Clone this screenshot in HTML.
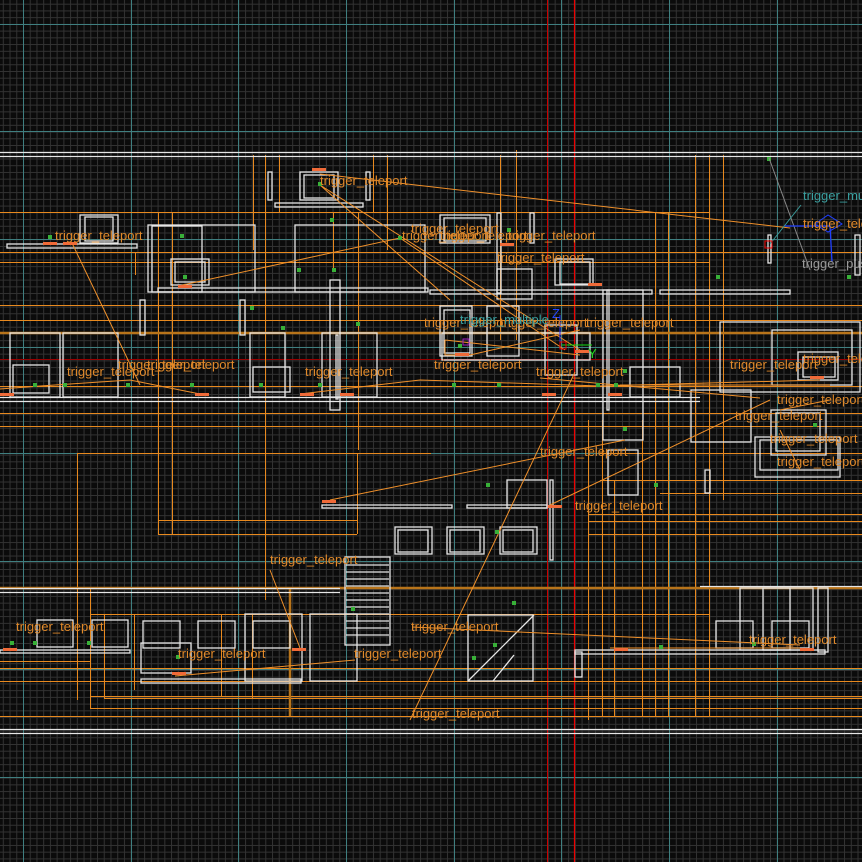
<!DOCTYPE html>
<html><head><meta charset="utf-8"><style>
html,body{margin:0;padding:0;background:#0a0a0a;}
svg{display:block}
text{font-family:"Liberation Sans","DejaVu Sans",sans-serif;font-size:13px;}
</style></head><body>
<svg width="862" height="862" viewBox="0 0 862 862" xmlns="http://www.w3.org/2000/svg">
<defs>
<pattern id="g" x="2.8" y="3.7" width="6.73" height="6.73" patternUnits="userSpaceOnUse">
<path d="M0 0.5H6.73M0.5 0V6.73" stroke="#333" stroke-width="1" fill="none"/>
</pattern>
</defs>
<rect width="862" height="862" fill="#0b0b0b"/>
<rect width="862" height="862" fill="url(#g)"/>
<g stroke="#3f7f80" stroke-width="1">
<path d="M23.5 0V862M131.5 0V862M238.5 0V862M346.5 0V862M454.5 0V862M561.5 0V862M669.5 0V862M777.5 0V862"/>
<path d="M0 24.5H862M0 131.5H862M0 239.5H862M0 347.5H862M0 453.5H862M0 561.5H862M0 669.5H862M0 777.5H862"/>
</g>
<path d="M547.5 0V862" stroke="#c00" stroke-width="1"/>
<path d="M574.5 0V862" stroke="#e00" stroke-width="1.2"/>
<path d="M0 359.5H862" stroke="#900" stroke-width="1"/>

<g stroke="#e8891e" stroke-width="1" fill="none">
<path d="M0 212.5H710M0 252.5H862M0 262.5H710M0 305.5H862M0 320.5H862M0 386.5H862M0 413.5H862M0 426.5H862M600 453.5H862M600 480.5H862M660 493.5H862"/>
<path d="M77 453.5H431M158 520.5H357M158 534.5H357M90 614.5H710M0 661.5H90M0 668.5H862M0 681.5H862M90 696.5H862M104 698.5H862M90 708.5H862M0 716.5H862M588 514.5H862M588 521.5H862M588 534.5H862M300 614.5H710"/>
<path d="M253.5 155V250M265.5 155V600M279.5 155V212M387.5 155V250M373.5 155V212M158.5 212V535M172.5 212V535M135.5 252V275M333.5 212V270M358.5 212V450M77.5 453V700M90.5 588V708M104.5 614V698M134.5 614V690M221.5 614V696M252.5 614V698M357.5 453V534"/>
<path d="M588.5 420V720M602.5 420V716M614.5 480V716M642.5 420V716M655.5 212V716M668.5 212V716M695.5 155V716M709.5 155V716M723.5 155V500M500.5 155V340M516.5 150V340"/>
</g>
<g stroke="#b8741a" stroke-width="2.5" fill="none">
<path d="M0 333H862M0 588H862M290 588V716"/>
</g>

<g stroke="#e6e6e6" stroke-width="1.3" fill="none">
<path d="M0 152.5H862M0 156.5H862M0 729.5H862M0 733.5H862"/>
<path d="M0 397.5H700M0 401.5H700M0 588.5H340M0 592.5H340M700 586.5H862"/>
<rect x="7" y="244" width="130" height="4"/>
<rect x="80" y="215" width="38" height="28"/><rect x="85" y="217" width="28" height="24"/>
<rect x="148" y="225" width="107" height="67"/><rect x="152" y="226" width="50" height="66"/>
<rect x="171" y="259" width="38" height="26"/><rect x="175" y="262" width="30" height="20"/>
<rect x="295" y="225" width="130" height="67"/>
<rect x="158" y="288" width="270" height="4"/>
<rect x="300" y="172" width="38" height="28"/><rect x="304" y="175" width="30" height="23"/>
<rect x="275" y="203" width="88" height="4"/>
<rect x="268" y="172" width="4" height="28"/><rect x="366" y="172" width="4" height="28"/>
<rect x="440" y="215" width="50" height="28"/><rect x="444" y="218" width="42" height="23"/>
<rect x="497" y="213" width="4" height="80"/><rect x="530" y="213" width="4" height="30"/>
<rect x="497" y="269" width="35" height="30"/>
<rect x="555" y="259" width="38" height="26"/><rect x="560" y="262" width="30" height="22"/>
<rect x="430" y="290" width="222" height="4"/><rect x="660" y="290" width="130" height="4"/>
<rect x="10" y="333" width="50" height="64"/><rect x="13" y="365" width="36" height="28"/>
<rect x="63" y="333" width="55" height="64"/>
<rect x="250" y="333" width="35" height="64"/><rect x="253" y="367" width="37" height="25"/>
<rect x="322" y="333" width="55" height="64"/><rect x="336" y="335" width="2" height="64"/>
<rect x="440" y="306" width="32" height="50"/><rect x="444" y="310" width="26" height="43"/>
<rect x="487" y="306" width="32" height="50"/>
<rect x="545" y="325" width="32" height="50"/>
<rect x="442" y="333" width="148" height="27"/>
<rect x="603" y="290" width="40" height="150"/><rect x="607" y="290" width="2" height="120"/>
<rect x="608" y="450" width="30" height="45"/>
<rect x="630" y="367" width="50" height="30"/>
<rect x="691" y="390" width="60" height="52"/>
<rect x="720" y="322" width="140" height="70"/><rect x="772" y="330" width="80" height="55"/>
<rect x="798" y="352" width="40" height="28"/><rect x="803" y="357" width="32" height="20"/>
<rect x="771" y="410" width="55" height="45"/><rect x="776" y="413" width="44" height="38"/>
<rect x="755" y="437" width="85" height="40"/><rect x="760" y="440" width="78" height="30"/>
<rect x="705" y="470" width="5" height="23"/>
<rect x="768" y="235" width="3" height="28"/><rect x="855" y="235" width="5" height="40"/>
<rect x="322" y="505" width="130" height="3"/><rect x="467" y="505" width="80" height="3"/>
<rect x="507" y="480" width="40" height="28"/><rect x="550" y="480" width="3" height="80"/>
<rect x="395" y="527" width="37" height="27"/><rect x="398" y="530" width="30" height="22"/>
<rect x="447" y="527" width="37" height="27"/><rect x="450" y="530" width="30" height="22"/>
<rect x="500" y="527" width="37" height="27"/><rect x="503" y="530" width="30" height="22"/>
<rect x="345" y="557" width="45" height="88"/>
<path d="M346 565H389M346 572H389M346 579H389M346 586H389M346 593H389M346 600H389M346 607H389M346 614H389M346 621H389M346 628H389M346 635H389"/>
<rect x="37" y="620" width="36" height="27"/><rect x="92" y="620" width="36" height="27"/>
<rect x="143" y="621" width="37" height="27"/><rect x="198" y="621" width="37" height="27"/><rect x="253" y="621" width="37" height="27"/>
<rect x="245" y="614" width="57" height="67"/><rect x="310" y="614" width="47" height="67"/>
<rect x="141" y="643" width="50" height="30"/>
<rect x="141" y="679" width="160" height="4"/>
<rect x="0" y="650" width="130" height="3"/>
<rect x="468" y="615" width="65" height="66"/>
<path d="M468 681L534 615M493 681L514 655"/>
<rect x="575" y="652" width="7" height="25"/>
<rect x="575" y="650" width="250" height="4"/>
<rect x="716" y="621" width="37" height="27"/><rect x="772" y="621" width="37" height="27"/>
<rect x="740" y="588" width="50" height="62"/><rect x="763" y="588" width="50" height="62"/>
<rect x="818" y="588" width="10" height="64"/>
<rect x="140" y="300" width="5" height="35"/><rect x="240" y="300" width="5" height="35"/>
<rect x="330" y="280" width="10" height="130"/>
</g>

<g stroke="#f0902a" stroke-width="1" fill="none">
<path d="M320 174L790 228M320 185L450 300M320 185L580 350M72 243L140 385M178 286L400 238M400 238L565 350M445 340L580 355M445 340L445 355L470 355L580 330M575 372L410 720M330 500L625 440M550 505L770 400M0 389L40 386L130 380L200 394M300 394L420 380L600 386L820 380M540 378L760 398M620 385L830 385M175 676L355 660M300 648L270 570M610 648L800 648M412 627L800 645M780 410L830 400M800 470L780 430"/>
</g>
<g fill="#f06a38">
<rect x="43" y="242" width="14" height="3"/><rect x="63" y="242" width="14" height="3"/>
<rect x="312" y="168" width="14" height="3"/><rect x="178" y="285" width="14" height="3"/>
<rect x="500" y="243" width="14" height="3"/><rect x="588" y="283" width="14" height="3"/>
<rect x="0" y="393" width="14" height="3"/><rect x="195" y="393" width="14" height="3"/><rect x="300" y="393" width="14" height="3"/><rect x="340" y="393" width="14" height="3"/>
<rect x="542" y="393" width="14" height="3"/><rect x="608" y="393" width="14" height="3"/>
<rect x="455" y="353" width="14" height="3"/><rect x="575" y="350" width="14" height="3"/>
<rect x="322" y="500" width="14" height="3"/><rect x="548" y="505" width="14" height="3"/>
<rect x="3" y="648" width="14" height="3"/><rect x="172" y="672" width="14" height="3"/>
<rect x="292" y="648" width="14" height="3"/><rect x="614" y="648" width="14" height="3"/>
<rect x="800" y="648" width="14" height="3"/><rect x="810" y="376" width="14" height="3"/>
</g>
<g fill="#38b038">
<rect x="48" y="235" width="4" height="4"/><rect x="180" y="234" width="4" height="4"/><rect x="330" y="218" width="4" height="4"/>
<rect x="183" y="275" width="4" height="4"/><rect x="297" y="268" width="4" height="4"/><rect x="332" y="268" width="4" height="4"/>
<rect x="250" y="306" width="4" height="4"/><rect x="281" y="326" width="4" height="4"/><rect x="356" y="322" width="4" height="4"/>
<rect x="318" y="182" width="4" height="4"/><rect x="398" y="236" width="4" height="4"/><rect x="507" y="228" width="4" height="4"/>
<rect x="33" y="383" width="4" height="4"/><rect x="63" y="383" width="4" height="4"/><rect x="126" y="383" width="4" height="4"/>
<rect x="190" y="383" width="4" height="4"/><rect x="259" y="383" width="4" height="4"/><rect x="318" y="383" width="4" height="4"/>
<rect x="458" y="344" width="4" height="4"/><rect x="452" y="383" width="4" height="4"/><rect x="497" y="383" width="4" height="4"/>
<rect x="596" y="383" width="4" height="4"/><rect x="614" y="383" width="4" height="4"/><rect x="623" y="427" width="4" height="4"/>
<rect x="623" y="369" width="4" height="4"/><rect x="654" y="483" width="4" height="4"/><rect x="486" y="483" width="4" height="4"/>
<rect x="716" y="275" width="4" height="4"/><rect x="767" y="157" width="4" height="4"/><rect x="847" y="275" width="4" height="4"/>
<rect x="495" y="530" width="4" height="4"/><rect x="351" y="607" width="4" height="4"/><rect x="512" y="601" width="4" height="4"/>
<rect x="10" y="641" width="4" height="4"/><rect x="33" y="641" width="4" height="4"/><rect x="87" y="641" width="4" height="4"/>
<rect x="176" y="655" width="4" height="4"/><rect x="472" y="656" width="4" height="4"/><rect x="493" y="643" width="4" height="4"/>
<rect x="659" y="645" width="4" height="4"/><rect x="752" y="642" width="4" height="4"/><rect x="813" y="423" width="4" height="4"/>
</g>
<g fill="none">
<path d="M769 158L810 270" stroke="#888"/>
<path d="M770 244L801 205" stroke="#3a9a9a"/>
<rect x="765" y="241" width="7" height="7" stroke="#e00"/>
<path d="M785 226H830L832 262" stroke="#2040ff" stroke-width="1.3"/>
<path d="M815 224L828 215L842 224L828 232Z" stroke="#2040ff"/>
<path d="M560 315V345" stroke="#2030ff"/>
<path d="M562 345H592" stroke="#1d1"/>
<rect x="560" y="342" width="6" height="7" stroke="#e00"/>
<rect x="463" y="339" width="6" height="6" stroke="#a020c0"/>
</g>
<text x="552" y="318" fill="#2244ff" font-size="10">Z</text>
<text x="588" y="358" fill="#22dd22" font-size="10">Y</text>
<g fill="#e0892a">
<text x="320" y="185">trigger_teleport</text>
<text x="55" y="240">trigger_teleport</text>
<text x="411" y="233">trigger_teleport</text>
<text x="402" y="240">trigger_teleport</text>
<text x="440" y="240">trigger_teleport</text>
<text x="508" y="240">trigger_teleport</text>
<text x="497" y="262">trigger_teleport</text>
<text x="424" y="327">trigger_teleport</text>
<text x="500" y="327">trigger_teleport</text>
<text x="586" y="327">trigger_teleport</text>
<text x="118" y="369">trigger_teleport</text>
<text x="147" y="369">trigger_teleport</text>
<text x="67" y="376">trigger_teleport</text>
<text x="305" y="376">trigger_teleport</text>
<text x="434" y="369">trigger_teleport</text>
<text x="536" y="376">trigger_teleport</text>
<text x="730" y="369">trigger_teleport</text>
<text x="803" y="363">trigger_teleport</text>
<text x="777" y="404">trigger_teleport</text>
<text x="735" y="420">trigger_teleport</text>
<text x="770" y="443">trigger_teleport</text>
<text x="777" y="466">trigger_teleport</text>
<text x="540" y="456">trigger_teleport</text>
<text x="575" y="510">trigger_teleport</text>
<text x="270" y="564">trigger_teleport</text>
<text x="16" y="631">trigger_teleport</text>
<text x="411" y="631">trigger_teleport</text>
<text x="178" y="658">trigger_teleport</text>
<text x="354" y="658">trigger_teleport</text>
<text x="749" y="644">trigger_teleport</text>
<text x="412" y="718">trigger_teleport</text>
<text x="803" y="228">trigger_teleport</text>
</g>
<text x="460" y="324" fill="#3aa0a0">trigger_multiple</text>
<text x="803" y="200" fill="#3aa0a0">trigger_multiple</text>
<text x="802" y="268" fill="#999">trigger_push</text>
</svg>
</body></html>
